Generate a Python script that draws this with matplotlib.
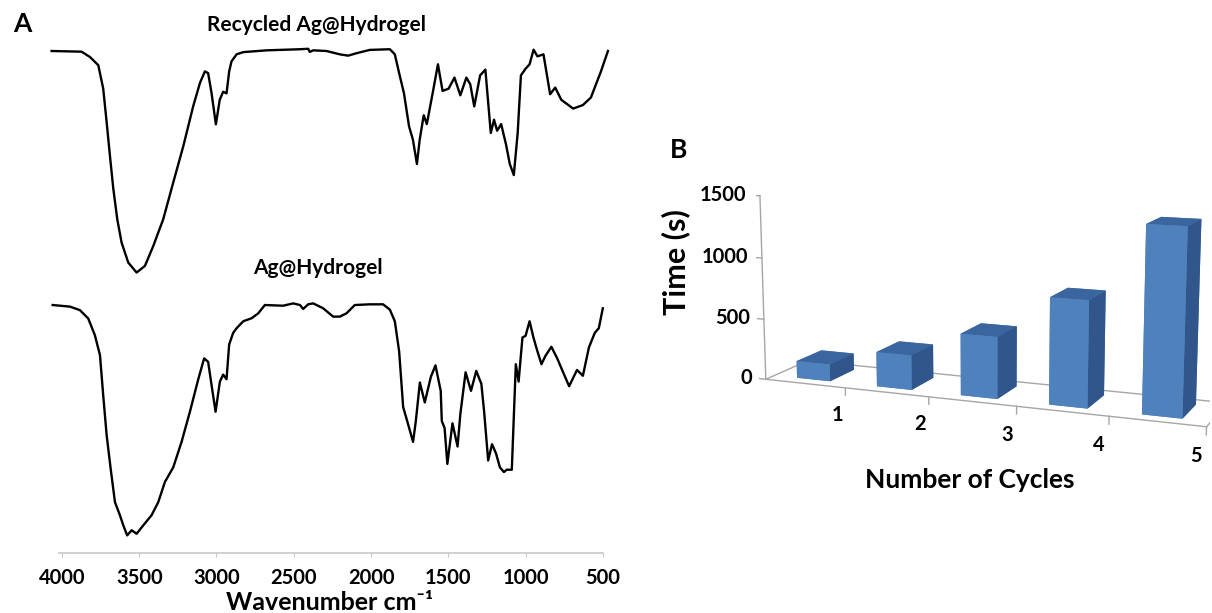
import numpy as np
import matplotlib.pyplot as plt

plt.rcParams['font.family'] = ['Lato', 'DejaVu Sans']

# ---- panel A: FTIR spectra (wavenumber, relative transmittance 0..100) ----
recycled_wn = [4067, 3873, 3819, 3765, 3733, 3711, 3690, 3668, 3642, 3614, 3571,
               3517, 3463, 3409, 3345, 3280, 3215, 3151, 3107, 3075, 3054, 3032,
               3004, 2979, 2957, 2935, 2918, 2903, 2870, 2827, 2676, 2460, 2407,
               2396, 2374, 2288, 2202, 2148, 2094, 2008, 1878, 1846, 1818, 1787,
               1754, 1729, 1703, 1685, 1659, 1639, 1601, 1567, 1537, 1498, 1460,
               1422, 1383, 1358, 1332, 1294, 1260, 1225, 1204, 1184, 1158, 1127,
               1102, 1076, 1051, 1030, 1000, 974, 948, 923, 884, 841, 808, 769,
               692, 629, 577, 544, 513, 467]
recycled_t = [100, 99.7, 97.3, 93.6, 83, 68, 53, 38, 24, 13.5, 4.5,
              0, 3, 12, 24, 40.6, 57, 75, 85.6, 90.8, 90, 81,
              66.9, 78, 81.6, 80.9, 90.8, 95.3, 98.5, 99.5, 100.3, 100.8, 101,
              99.6, 100.3, 100, 98.5, 97.9, 99, 100.5, 100.8, 98.5, 90, 81,
              66, 60, 49, 60, 71, 67, 81, 94, 82, 83, 88,
              80, 88, 85, 75, 89, 91.6, 63, 69, 64, 67, 58,
              49, 44, 63, 89, 92, 94, 100.6, 97.6, 98.5, 80.5, 83.5, 78,
              74, 75.6, 79, 85, 90.6, 100]

fresh_wn = [4060, 3948, 3884, 3830, 3787, 3754, 3733, 3711, 3685, 3657, 3625,
            3603, 3578, 3549, 3517, 3474, 3420, 3377, 3334, 3280, 3226, 3172,
            3118, 3080, 3054, 3032, 3006, 2978, 2957, 2935, 2918, 2892, 2870,
            2827, 2773, 2730, 2687, 2569, 2504, 2460, 2439, 2407, 2374, 2310,
            2245, 2202, 2159, 2105, 2008, 1922, 1878, 1846, 1818, 1792, 1766,
            1728, 1710, 1684, 1652, 1613, 1583, 1549, 1542, 1524, 1506, 1473,
            1440, 1422, 1388, 1353, 1319, 1286, 1268, 1242, 1217, 1191, 1166,
            1140, 1122, 1089, 1063, 1045, 1020, 1000, 974, 949, 923, 897, 872,
            833, 795, 757, 718, 667, 629, 590, 552, 526, 500]
fresh_t = [100, 99.3, 97.8, 94.2, 87, 78.4, 61, 44, 29.5, 15, 9.4,
           5, 0.7, 2.9, 1.4, 5, 9.4, 15, 23.7, 30, 41, 54,
           68, 77, 75.5, 65.5, 54, 67, 70, 68, 83, 88, 90,
           93, 94.3, 96.4, 100, 99.7, 100.7, 100, 98.3, 100.3, 100.7, 98.6,
           95, 95, 96.4, 100, 100.3, 100.3, 98, 93, 80, 56, 50,
           41, 50, 66.6, 58, 69, 74, 63, 50, 47, 31.5, 49,
           39, 53, 71, 63, 71.6, 66, 54, 33, 40, 36, 30,
           28, 29, 29, 74.5, 67, 86, 86.7, 93, 86, 80, 74.5, 78,
           82, 77, 71, 65, 72, 69.5, 81.7, 88, 90, 98.6]

wn_ticks = [4000, 3500, 3000, 2500, 2000, 1500, 1000, 500]

# ---- panel B: recycling times ----
cycles = np.array([1, 2, 3, 4, 5])
times = np.array([140, 280, 490, 830, 1420])
time_ticks = [0, 500, 1000, 1500]

W, H = 1212, 613
fig = plt.figure(figsize=(W / 100, H / 100), dpi=100)

ax = fig.add_axes([49.6 / W, 60 / H, 559.4 / W, 518 / H])
ax.plot(recycled_wn, np.array(recycled_t) * 0.955 + 114, color='black', lw=1.7,
        clip_on=False, solid_joinstyle='round')
ax.plot(fresh_wn, fresh_t, color='black', lw=1.7, clip_on=False, solid_joinstyle='round')
ax.set_xlim(4080, 460)
ax.set_ylim(-6.9, 216.4)
ax.set_yticks([])
for s in ['left', 'top', 'right']:
    ax.spines[s].set_visible(False)
ax.spines['bottom'].set_color('#c8c8c8')
ax.spines['bottom'].set_linewidth(1.2)
ax.spines['bottom'].set_bounds(4020, 500)
ax.set_xticks(wn_ticks)
ax.set_xticklabels([str(t) for t in wn_ticks], fontsize=14.5, fontweight='bold')
ax.tick_params(axis='x', length=3, color='#c8c8c8', pad=8)
ax.set_xlabel('Wavenumber cm⁻¹', fontsize=18, fontweight='bold', labelpad=2)

fig.text(317 / W, 1 - 25 / H, 'Recycled Ag@Hydrogel', fontsize=15, fontweight='bold',
         ha='center', va='center')
fig.text(318 / W, 1 - 268 / H, 'Ag@Hydrogel', fontsize=15, fontweight='bold',
         ha='center', va='center')
fig.text(22 / W, 1 - 24 / H, 'A', fontsize=19, fontweight='bold', ha='center', va='center')
fig.text(679 / W, 1 - 150 / H, 'B', fontsize=19, fontweight='bold', ha='center', va='center')

# ---- panel B: 3D bars ----
ax3 = fig.add_axes([0.611, 0.135, 0.4, 0.74], projection='3d')
ax3.set_axis_off()
ax3.set_xticks([])
ax3.set_yticks([])
ax3.set_zticks([])
ax3.computed_zorder = False
ax3.set_proj_type('persp', focal_length=0.56)
ax3.view_init(elev=11, azim=-68)
ax3.set_xlim(0.5, 5.5)
ax3.set_ylim(0, 1)
ax3.set_zlim(0, 1500)
ax3.set_box_aspect((5, 0.95, 2.06), zoom=1.1)

grey = '#a6a6a6'
x0, x1 = 0.5, 5.5
ax3.plot([x0, x1], [0, 0], [0, 0], color=grey, lw=1, zorder=0)
ax3.plot([x0, x1], [1, 1], [0, 0], color=grey, lw=1, zorder=0)
ax3.plot([x0, x0], [0, 1], [0, 0], color=grey, lw=1, zorder=0)
ax3.plot([x1, x1], [0, 1], [0, 0], color=grey, lw=1, zorder=0)
ax3.plot([x0, x0], [0, 0], [0, 1500], color=grey, lw=1, zorder=0)
for t in time_ticks:
    ax3.plot([x0 - 0.08, x0], [0, 0], [t, t], color=grey, lw=1, zorder=0)
    ax3.text(x0 - 0.18, 0, t, str(t), ha='right', va='center', fontsize=14.5, fontweight='bold')
for c in cycles:
    ax3.plot([c + 0.5, c + 0.5], [0, 0], [0, -60], color=grey, lw=1, zorder=0)
    ax3.text(c + 0.4, 0, -230, str(c), ha='center', va='center', fontsize=14.5, fontweight='bold')

# face order in bar3d: -z, +z, -y, +y, -x, +x
face_cols = ['#4f81bd', '#3b659f', '#4f81bd', '#4f81bd', '#4f81bd', '#30568b'] * len(cycles)
ax3.bar3d(cycles - 0.21, 0.2, 0, 0.42, 0.6, times, color=face_cols, shade=False, zorder=2)

fig.text(676 / W, 1 - 262 / H, 'Time (s)', fontsize=22, fontweight='bold', rotation=90,
         ha='center', va='center')
fig.text(970 / W, 1 - 480 / H, 'Number of Cycles', fontsize=19, fontweight='bold',
         ha='center', va='center')

fig.savefig('out.png', dpi=100)
